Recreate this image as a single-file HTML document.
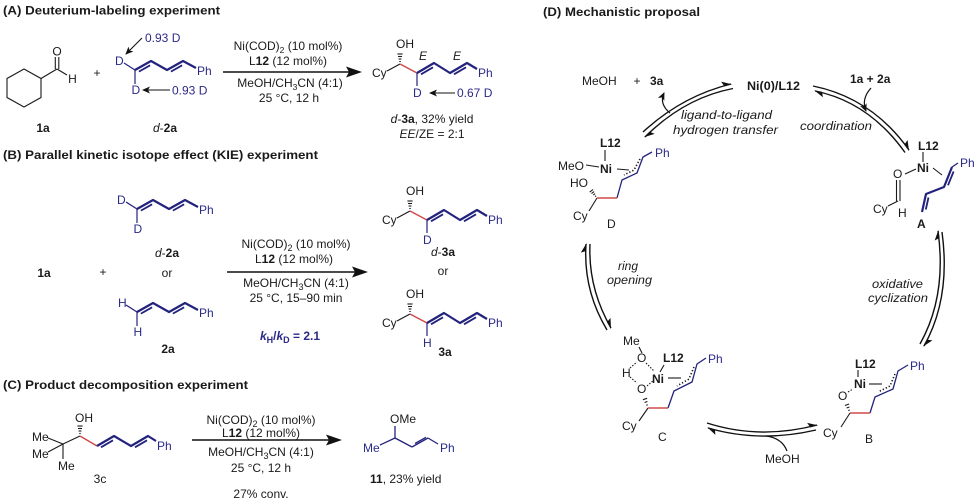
<!DOCTYPE html>
<html><head><meta charset="utf-8">
<style>
html,body{margin:0;padding:0;background:#fff;}
svg{display:block;}
text{font-family:"Liberation Sans",Arial,sans-serif;fill:#1a1a1a;font-size:12px;}
.bl{fill:#2a2a88;}
.b{font-weight:bold;}
.i{font-style:italic;}
</style></head><body>
<svg width="979" height="504" viewBox="0 0 979 504" xmlns="http://www.w3.org/2000/svg">
<defs>
<marker id="hp" markerUnits="userSpaceOnUse" markerWidth="13" markerHeight="12" viewBox="-11 -6 13 12" refX="0" refY="0" orient="auto"><polygon points="1,0.6 -9,-4.6 -7,0.6" fill="#111"/></marker>
<marker id="ah" markerUnits="userSpaceOnUse" markerWidth="10" markerHeight="10" viewBox="-9 -5 10 10" refX="0" refY="0" orient="auto"><polygon points="1,0 -7,-3.5 -5,0 -7,3.5" fill="#111"/></marker>
</defs>

<!-- ================= PANEL A ================= -->
<text x="3" y="14.5" font-size="12.5" font-weight="bold" textLength="217" lengthAdjust="spacingAndGlyphs">(A) Deuterium-labeling experiment</text>
<g stroke="#1a1a1a" stroke-width="1.1" fill="none">
<polygon points="24,69 41,78.5 41,97.5 24,107 7,97.5 7,78.5"/>
<line x1="41" y1="78.5" x2="57" y2="69"/>
<line x1="55.3" y1="69" x2="55.3" y2="57"/>
<line x1="58.8" y1="69" x2="58.8" y2="57"/>
<line x1="57" y1="69" x2="67" y2="75"/>
</g>
<text x="57" y="55.5" text-anchor="middle">O</text>
<text x="72.5" y="83" text-anchor="middle">H</text>
<text x="43" y="132" text-anchor="middle" class="b">1a</text>
<text x="97" y="77" text-anchor="middle">+</text>

<g id="dieneD">
<g stroke="#23237e" fill="none">
<line x1="124" y1="63" x2="135" y2="70" stroke-width="1.2"/>
<line x1="135" y1="70" x2="135" y2="84" stroke-width="1.2"/>
<polyline points="135,70 151,61 167,70 183,61 196,68" stroke-width="2.2" stroke-linejoin="round"/>
<line x1="138.9" y1="71.6" x2="150.1" y2="65.3" stroke-width="1.8"/>
<line x1="170.9" y1="71.6" x2="182.1" y2="65.3" stroke-width="1.8"/>
</g>
<text x="197" y="75" class="bl">Ph</text>
</g>
<text x="115" y="65" class="bl">D</text>
<text x="131.5" y="94" class="bl">D</text>
<line x1="142" y1="38" x2="126" y2="54" stroke="#111" stroke-width="1.1" marker-end="url(#ah)"/>
<line x1="170" y1="90" x2="143" y2="90" stroke="#111" stroke-width="1.1" marker-end="url(#ah)"/>
<text x="145" y="42" class="bl">0.93 D</text>
<text x="172" y="94.5" class="bl">0.93 D</text>
<text x="165" y="132" text-anchor="middle"><tspan class="i">d</tspan>-<tspan class="b">2a</tspan></text>

<!-- conditions A -->
<g text-anchor="middle">
<text x="288" y="50">Ni(COD)<tspan font-size="8.5" dy="3">2</tspan><tspan dy="-3"> (10 mol%)</tspan></text>
<text x="288" y="65">L<tspan class="b">12</tspan> (12 mol%)</text>
<text x="290" y="87">MeOH/CH<tspan font-size="8.5" dy="3">3</tspan><tspan dy="-3">CN (4:1)</tspan></text>
<text x="289" y="102">25 °C, 12 h</text>
</g>
<line x1="223" y1="72" x2="350" y2="72" stroke="#111" stroke-width="1.4"/>
<polygon points="346,66.5 362,72 346,77.5 349,72" fill="#111"/>

<!-- product A -->
<g id="prodA">
<g stroke="#1a1a1a" stroke-width="1.1" fill="none">
<line x1="387" y1="71" x2="400" y2="64"/>
<line x1="399.3" y1="61.5" x2="400.7" y2="61.5"/>
<line x1="398.6" y1="59" x2="401.4" y2="59"/>
<line x1="398" y1="56.5" x2="402" y2="56.5"/>
<line x1="397.4" y1="54" x2="402.6" y2="54"/>
</g>
<line x1="400" y1="64" x2="417" y2="73" stroke="#d04a4a" stroke-width="1.5"/>
<g stroke="#23237e" fill="none">
<polyline points="417,73 434,63 450,73 467,63 477,69" stroke-width="2.2" stroke-linejoin="round"/>
<line x1="421" y1="74.3" x2="433" y2="67.3" stroke-width="1.8"/>
<line x1="454" y1="74.3" x2="466" y2="67.3" stroke-width="1.8"/>
</g>
<text x="372" y="77">Cy</text>
<text x="396" y="48">OH</text>
<text x="478" y="77" class="bl">Ph</text>
</g>
<line x1="417" y1="73" x2="417" y2="86" stroke="#23237e" stroke-width="1.2"/>
<text x="413" y="97" class="bl">D</text>
<text x="419" y="60" class="i">E</text>
<text x="453" y="60" class="i">E</text>
<line x1="455" y1="93" x2="430" y2="93" stroke="#111" stroke-width="1.1" marker-end="url(#ah)"/>
<text x="457" y="97" class="bl">0.67 D</text>
<text x="432" y="123" text-anchor="middle"><tspan class="i">d</tspan>-<tspan class="b">3a</tspan>, 32% yield</text>
<text x="432" y="138" text-anchor="middle"><tspan class="i">EE</tspan>/ZE = 2:1</text>

<!-- ================= PANEL B ================= -->
<text x="3" y="159" font-size="12.5" font-weight="bold" textLength="315" lengthAdjust="spacingAndGlyphs">(B) Parallel kinetic isotope effect (KIE) experiment</text>
<g transform="translate(2,139)">
<use href="#dieneD"/>
<text x="115" y="65" class="bl">D</text>
<text x="131.5" y="94" class="bl">D</text>
</g>
<text x="167" y="257" text-anchor="middle"><tspan class="i">d</tspan>-<tspan class="b">2a</tspan></text>
<text x="44" y="277" text-anchor="middle" class="b">1a</text>
<text x="103" y="276" text-anchor="middle">+</text>
<text x="167" y="277" text-anchor="middle">or</text>
<g transform="translate(2,242)">
<use href="#dieneD"/>
<text x="116" y="65" class="bl">H</text>
<text x="131.5" y="94" class="bl">H</text>
</g>
<text x="168" y="353" text-anchor="middle" class="b">2a</text>

<g text-anchor="middle" font-size="13">
<text x="296" y="248" font-size="13">Ni(COD)<tspan font-size="9" dy="3">2</tspan><tspan dy="-3"> (10 mol%)</tspan></text>
<text x="294" y="263" font-size="13">L<tspan class="b">12</tspan> (12 mol%)</text>
<text x="296" y="287" font-size="13">MeOH/CH<tspan font-size="9" dy="3">3</tspan><tspan dy="-3">CN (4:1)</tspan></text>
<text x="296" y="302" font-size="13">25 °C, 15–90 min</text>
<text x="290" y="340" font-size="13" class="bl b"><tspan class="i">k</tspan><tspan font-size="9" dy="3">H</tspan><tspan dy="-3">/</tspan><tspan class="i">k</tspan><tspan font-size="9" dy="3">D</tspan><tspan dy="-3"> = 2.1</tspan></text>
</g>
<line x1="227" y1="272" x2="355" y2="272" stroke="#111" stroke-width="1.4"/>
<polygon points="352,266.5 368,272 352,277.5 355,272" fill="#111"/>

<g transform="translate(10,147)"><use href="#prodA"/>
<line x1="417" y1="73" x2="417" y2="86" stroke="#23237e" stroke-width="1.2"/>
<text x="413" y="97" class="bl">D</text></g>
<text x="443" y="256" text-anchor="middle"><tspan class="i">d</tspan>-<tspan class="b">3a</tspan></text>
<text x="443" y="275" text-anchor="middle">or</text>
<g transform="translate(10,250)"><use href="#prodA"/>
<line x1="417" y1="73" x2="417" y2="86" stroke="#23237e" stroke-width="1.2"/>
<text x="413" y="97" class="bl">H</text></g>
<text x="445" y="356" text-anchor="middle" class="b">3a</text>

<!-- ================= PANEL C ================= -->
<text x="3" y="389" font-size="12.5" font-weight="bold" textLength="245" lengthAdjust="spacingAndGlyphs">(C) Product decomposition experiment</text>
<g stroke="#1a1a1a" stroke-width="1.1" fill="none">
<line x1="48" y1="438" x2="63" y2="444"/>
<line x1="48" y1="452" x2="63" y2="444"/>
<line x1="63" y1="444" x2="63" y2="459"/>
<line x1="63" y1="444" x2="80" y2="436"/>
<line x1="79.3" y1="433.5" x2="80.7" y2="433.5"/>
<line x1="78.6" y1="431" x2="81.4" y2="431"/>
<line x1="78" y1="428.5" x2="82" y2="428.5"/>
<line x1="77.4" y1="426" x2="82.6" y2="426"/>
</g>
<line x1="80" y1="436" x2="97" y2="446" stroke="#d04a4a" stroke-width="1.5"/>
<g stroke="#23237e" fill="none">
<polyline points="97,446 114,436 131,446 148,436 156,441" stroke-width="2.2" stroke-linejoin="round"/>
<line x1="101" y1="447.3" x2="113" y2="440.3" stroke-width="1.8"/>
<line x1="135" y1="447.3" x2="147" y2="440.3" stroke-width="1.8"/>
</g>
<text x="32" y="441">Me</text>
<text x="32" y="458">Me</text>
<text x="58" y="470">Me</text>
<text x="75" y="422">OH</text>
<text x="157" y="450" class="bl">Ph</text>
<text x="100" y="483" text-anchor="middle">3c</text>

<g text-anchor="middle">
<text x="261" y="424" font-size="13">Ni(COD)<tspan font-size="9" dy="3">2</tspan><tspan dy="-3"> (10 mol%)</tspan></text>
<text x="261" y="437" font-size="13">L<tspan class="b">12</tspan> (12 mol%)</text>
<text x="261" y="456" font-size="13">MeOH/CH<tspan font-size="9" dy="3">3</tspan><tspan dy="-3">CN (4:1)</tspan></text>
<text x="261" y="472" font-size="13">25 °C, 12 h</text>
<text x="261" y="498" font-size="13">27% conv.</text>
</g>
<line x1="192" y1="440" x2="329" y2="440" stroke="#111" stroke-width="1.4"/>
<polygon points="326,434.5 342,440 326,445.5 329,440" fill="#111"/>

<g stroke="#23237e" fill="none" stroke-width="1.3">
<line x1="395" y1="426" x2="395" y2="438"/>
<line x1="380" y1="445" x2="395" y2="438"/>
<line x1="395" y1="438" x2="412" y2="447"/>
<line x1="412" y1="447" x2="428" y2="438"/>
<line x1="415" y1="443.5" x2="426" y2="437.3"/>
<line x1="428" y1="438" x2="438" y2="444"/>
</g>
<text x="390" y="423" font-size="12.5">OMe</text>
<text x="363" y="452" font-size="12.5" class="bl">Me</text>
<text x="440" y="452" font-size="12.5" class="bl">Ph</text>
<text x="370" y="483" font-size="12.5"><tspan class="b">11</tspan>, 23% yield</text>

<!-- ================= PANEL D ================= -->
<text x="543" y="16" font-size="12.5" font-weight="bold" textLength="157" lengthAdjust="spacingAndGlyphs">(D) Mechanistic proposal</text>
<text x="582" y="85" font-size="13">MeOH</text>
<text x="637" y="85" font-size="13" text-anchor="middle">+</text>
<text x="650" y="85" font-size="13" class="b">3a</text>
<text x="747" y="90" font-size="13" class="b" textLength="53" lengthAdjust="spacingAndGlyphs">Ni(0)/L12</text>
<text x="850" y="83" font-size="13" class="b">1a + 2a</text>

<g stroke="#111" stroke-width="1.4" fill="none">
<path d="M643 132 Q682 96 731 84" marker-end="url(#hp)"/>
<path d="M733 88.5 Q684 98 645 137" marker-end="url(#hp)"/>
<path d="M813 86 Q872 98 909 150" marker-end="url(#hp)"/>
<path d="M905 152.5 Q869 102 815 91" marker-end="url(#hp)"/>
<path d="M920 344 Q947 296 938 231" marker-end="url(#hp)"/>
<path d="M942 232 Q951 298 924 346" marker-end="url(#hp)"/>
<path d="M707 423 Q760 440 817 425" marker-end="url(#hp)"/>
<path d="M816 430 Q760 443 708 428" marker-end="url(#hp)"/>
<path d="M607 330 Q583 290 586 244" marker-end="url(#hp)"/>
<path d="M590 244 Q588 288 611 328" marker-end="url(#hp)"/>
<path d="M670 113 Q659 104 664 93" stroke-width="1.2" marker-end="url(#ah)"/>
<path d="M871 88 Q861 99 866 111" stroke-width="1.2" marker-end="url(#ah)"/>
<path d="M766 436 Q782 438 787 451" stroke-width="1.2"/>
</g>

<g class="i" font-size="13">
<text x="681" y="119" font-size="13" class="i" textLength="91" lengthAdjust="spacingAndGlyphs">ligand-to-ligand</text>
<text x="673" y="134" font-size="13" class="i" textLength="105" lengthAdjust="spacingAndGlyphs">hydrogen transfer</text>
<text x="800" y="130" font-size="13" class="i" textLength="72" lengthAdjust="spacingAndGlyphs">coordination</text>
<text x="872" y="288" font-size="13" class="i" textLength="51" lengthAdjust="spacingAndGlyphs">oxidative</text>
<text x="868" y="302" font-size="13" class="i" textLength="60" lengthAdjust="spacingAndGlyphs">cyclization</text>
<text x="618" y="270" font-size="13" class="i">ring</text>
<text x="607" y="284" font-size="13" class="i" textLength="45" lengthAdjust="spacingAndGlyphs">opening</text>
</g>
<text x="765" y="463" font-size="13">MeOH</text>

<!-- complex D -->
<text x="600" y="147" font-size="13" class="b">L12</text>
<text x="600" y="173" font-size="13.5" class="b">Ni</text>
<text x="558" y="170" font-size="12.5">MeO</text>
<text x="570" y="187" font-size="12.5">HO</text>
<text x="573" y="220" font-size="12.5">Cy</text>
<text x="607" y="228" font-size="13">D</text>
<text x="655" y="157" font-size="12.5" class="bl">Ph</text>
<g stroke="#1a1a1a" stroke-width="1.1" fill="none">
<line x1="605" y1="150" x2="605" y2="161"/>
<line x1="586" y1="165" x2="599" y2="167"/>
<line x1="617" y1="169" x2="629" y2="170"/>
<line x1="597" y1="198" x2="589" y2="211"/>
<line x1="595.1" y1="196.6" x2="596.1" y2="195.8"/>
<line x1="593.3" y1="195.1" x2="595.1" y2="193.7"/>
<line x1="591.5" y1="193.6" x2="594.1" y2="191.6"/>
<line x1="589.7" y1="192.1" x2="593.1" y2="189.5"/>
<polyline points="640,159 634,170 624,175" stroke-width="1.6" stroke-dasharray="1.3 2"/>
</g>
<polyline points="652,152 643,157 637,173 622,180 617,198" stroke="#23237e" stroke-width="1.3" fill="none"/>
<line x1="617" y1="198" x2="597" y2="198" stroke="#d04a4a" stroke-width="1.5"/>

<!-- complex A -->
<text x="918" y="150" font-size="13" class="b">L12</text>
<text x="917" y="172" font-size="13.5" class="b">Ni</text>
<text x="893" y="178" font-size="13">O</text>
<text x="873" y="213" font-size="12.5">Cy</text>
<text x="898" y="217" font-size="12.5">H</text>
<text x="917" y="228" font-size="13" class="b">A</text>
<text x="960" y="167" font-size="12.5" class="bl">Ph</text>
<g stroke="#1a1a1a" stroke-width="1.1" fill="none">
<line x1="923" y1="152" x2="923" y2="162"/>
<line x1="905" y1="174" x2="916" y2="169"/>
<line x1="896.5" y1="180" x2="896.5" y2="201"/>
<line x1="900" y1="180" x2="900" y2="201"/>
<line x1="898" y1="201" x2="888" y2="206"/>
<line x1="933" y1="168" x2="942" y2="175"/>
</g>
<g stroke="#23237e" fill="none">
<line x1="958" y1="163" x2="952" y2="167" stroke-width="1.3"/>
<polyline points="952,167 944,187 926,194 922,212" stroke-width="2.2" stroke-linejoin="round"/>
<line x1="953.6" y1="171.5" x2="948" y2="185.3" stroke-width="1.8"/>
<line x1="928.5" y1="197.5" x2="925.8" y2="209.5" stroke-width="1.8"/>
</g>

<!-- complex B -->
<text x="855" y="368" font-size="13" class="b">L12</text>
<text x="854" y="388" font-size="13.5" class="b">Ni</text>
<text x="838" y="400" font-size="13">O</text>
<text x="823" y="437" font-size="12.5">Cy</text>
<text x="865" y="443" font-size="13">B</text>
<text x="910" y="370" font-size="12.5" class="bl">Ph</text>
<g stroke="#1a1a1a" stroke-width="1.1" fill="none">
<line x1="858" y1="370" x2="858" y2="377"/>
<line x1="848" y1="392" x2="853" y2="389" stroke-dasharray="1.5 1.5"/>
<line x1="869" y1="384" x2="882" y2="384"/>
<line x1="850" y1="413" x2="841" y2="427"/>
<line x1="848.25" y1="410.5" x2="849.75" y2="410"/>
<line x1="846.6" y1="408" x2="849.4" y2="407"/>
<line x1="844.9" y1="405.5" x2="849.1" y2="404"/>
<polyline points="895,374 890,386 878,392" stroke-width="1.6" stroke-dasharray="1.3 2"/>
</g>
<polyline points="908,365 898,371 893,389 875,397 870,413" stroke="#23237e" stroke-width="1.3" fill="none"/>
<line x1="870" y1="413" x2="850" y2="413" stroke="#d04a4a" stroke-width="1.5"/>

<!-- complex C -->
<text x="623" y="345" font-size="12.5">Me</text>
<text x="637" y="362" font-size="13">O</text>
<text x="663" y="362" font-size="13" class="b">L12</text>
<text x="622" y="377" font-size="12.5">H</text>
<text x="652" y="383" font-size="13.5" class="b">Ni</text>
<text x="637" y="393" font-size="13">O</text>
<text x="622" y="430" font-size="12.5">Cy</text>
<text x="658" y="441" font-size="13">C</text>
<text x="708" y="363" font-size="12.5" class="bl">Ph</text>
<g stroke="#1a1a1a" stroke-width="1.1" fill="none">
<line x1="639" y1="347" x2="642" y2="353"/>
<line x1="664" y1="365" x2="660" y2="372"/>
<line x1="646" y1="363" x2="654" y2="371" stroke-dasharray="1.5 1.5"/>
<line x1="630" y1="368" x2="637" y2="362" stroke-dasharray="1.5 1.5"/>
<line x1="630" y1="377" x2="637" y2="383" stroke-dasharray="1.5 1.5"/>
<line x1="647" y1="386" x2="654" y2="380" stroke-dasharray="1.5 1.5"/>
<line x1="668" y1="378" x2="681" y2="378"/>
<line x1="648" y1="408" x2="639" y2="421"/>
<line x1="646.25" y1="405.27" x2="647.75" y2="404.73"/>
<line x1="644.6" y1="402.5" x2="647.4" y2="401.5"/>
<line x1="642.9" y1="399.7" x2="647.1" y2="398.3"/>
<polyline points="694,367 689,379 677,386" stroke-width="1.6" stroke-dasharray="1.3 2"/>
</g>
<polyline points="706,358 697,364 692,382 674,391 668,408" stroke="#23237e" stroke-width="1.3" fill="none"/>
<line x1="668" y1="408" x2="648" y2="408" stroke="#d04a4a" stroke-width="1.5"/>
</svg>
</body></html>
